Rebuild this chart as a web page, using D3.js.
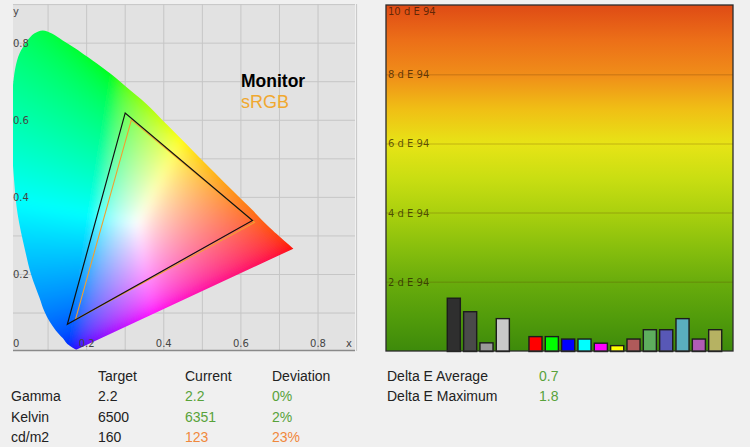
<!DOCTYPE html>
<html>
<head>
<meta charset="utf-8">
<script src="https://cdn.jsdelivr.net/npm/d3@7"></script>
<style>
  body { margin: 0; background: #f0f0f0; }
  svg { display: block; }
</style>
</head>
<body>
<svg id="chart" width="750" height="447"></svg>
<script>
// Spectral locus (CIE 1931 xy)
const locusX = [0.173, 0.150, 0.138, 0.120, 0.104, 0.090, 0.078, 0.056, 0.039, 0.021, 0.012, 0.006, 0.005, 0.010, 0.016, 0.026, 0.045, 0.064, 0.086, 0.110, 0.138, 0.170, 0.203, 0.268, 0.303, 0.355, 0.398, 0.459, 0.519, 0.571, 0.632, 0.675, 0.736];
const locusY = [0.005, 0.020, 0.035, 0.055, 0.078, 0.105, 0.139, 0.200, 0.269, 0.357, 0.443, 0.540, 0.630, 0.700, 0.740, 0.773, 0.805, 0.825, 0.833, 0.825, 0.807, 0.787, 0.764, 0.716, 0.686, 0.642, 0.599, 0.538, 0.477, 0.425, 0.365, 0.321, 0.267];

// Gamut triangles (red, green, blue primaries)
const monitorX = [0.630, 0.300, 0.150];
const monitorY = [0.340, 0.619, 0.071];
const srgbX = [0.635, 0.316, 0.171];
const srgbY = [0.335, 0.601, 0.083];

const gridTicks = [0.1, 0.2, 0.3, 0.4, 0.5, 0.6, 0.7, 0.8, 0.9];
const labelTicks = [0.2, 0.4, 0.6, 0.8];

// Delta E per patch (0 = empty slot)
const patchColors = [null, null, null, "#2f2f2f", "#4a4a4a", "#9a9a9a", "#c9c9c9", null,
  "#ff0000", "#00ff00", "#0000ff", "#00ffff", "#ff00ff", "#ffff00",
  "#b05a5a", "#5eae5e", "#5858b6", "#5aaebe", "#b05cb4", "#b6b262"];
const deltaE = [0, 0, 0, 1.54, 1.15, 0.25, 0.95, 0,
  0.43, 0.43, 0.36, 0.36, 0.24, 0.17,
  0.36, 0.63, 0.63, 0.95, 0.36, 0.63];
const deTicks = [2, 4, 6, 8, 10];
const deStops = [[10, "#df4b15"], [9, "#ec6f18"], [8, "#f08d19"], [7, "#f0bf15"], [6, "#e7e416"],
  [5, "#c9de12"], [4, "#aad00e"], [3, "#88bf0d"], [2, "#69ac0c"], [1, "#529c0b"], [0, "#3d8a0b"]];

// Summary table
const tableCols = ["Target", "Current", "Deviation"];
const tableRows = ["Gamma", "Kelvin", "cd/m2"];
const targetVals = ["2.2", "6500", "160"];
const currentVals = ["2.2", "6351", "123"];
const deviationVals = ["0%", "2%", "23%"];
const rowStatus = ["ok", "ok", "warn"];
const deLabels = ["Delta E Average", "Delta E Maximum"];
const deVals = ["0.7", "1.8"];

const green = "#58a23a", orange = "#f0883c";
const svg = d3.select("#chart");

// ---------- Left: chromaticity diagram ----------
const plot = {left: 13, right: 355, top: 4, bottom: 351};
const x = d3.scaleLinear().domain([0, 0.9]).range([9.5, 356.6]);
const y = d3.scaleLinear().domain([0, 0.9]).range([351.6, 4.6]);

const defs = svg.append("defs");
defs.append("clipPath").attr("id", "plotClip")
  .append("rect")
  .attr("x", plot.left).attr("y", plot.top)
  .attr("width", plot.right - plot.left).attr("height", plot.bottom - plot.top);

const locusPts = locusX.map((d, i) => [d, locusY[i]]);
const locusPath = d3.line()
  .x(d => x(d[0])).y(d => y(d[1]))
  .curve(d3.curveCatmullRom)(locusPts) + "Z";
defs.append("clipPath").attr("id", "locusClip")
  .append("path").attr("d", locusPath);

// soften the colour wedges a bit
defs.append("filter").attr("id", "soft")
  .attr("x", "-5%").attr("y", "-5%").attr("width", "110%").attr("height", "110%")
  .append("feGaussianBlur").attr("stdDeviation", 5);

svg.append("rect")
  .attr("x", plot.left).attr("y", plot.top)
  .attr("width", plot.right - plot.left).attr("height", plot.bottom - plot.top)
  .attr("fill", "#e2e2e2");

// grid
const grid = svg.append("g").attr("stroke", "#c6c6c6").attr("stroke-width", 1);
grid.selectAll(".vx").data(gridTicks).join("line")
  .attr("x1", d => x(d)).attr("x2", d => x(d))
  .attr("y1", plot.top).attr("y2", plot.bottom);
grid.selectAll(".hy").data(gridTicks).join("line")
  .attr("x1", plot.left).attr("x2", plot.right)
  .attr("y1", d => y(d)).attr("y2", d => y(d));

// colour fill of the horseshoe, computed per pixel (CIE RGB primaries)
function xyToRgb(cx, cy) {
  const X = cx / cy, Z = (1 - cx - cy) / cy;
  let r = 2.3655 * X - 0.8971 - 0.4683 * Z;
  let g = -0.5151 * X + 1.4264 + 0.0887 * Z;
  let b = 0.0052 * X - 0.0144 + 1.0089 * Z;
  r = Math.max(r, 0); g = Math.max(g, 0); b = Math.max(b, 0);
  const m = Math.max(r, g, b) || 1;
  return [r / m, g / m, b / m].map(c =>
    255 * (c <= 0.0031308 ? 12.92 * c : 1.055 * Math.pow(c, 1 / 2.4) - 0.055));
}
const pad = 24;
const cw = plot.right - plot.left + 2 * pad, ch = plot.bottom - plot.top + 2 * pad;
const canvas = document.createElement("canvas");
canvas.width = cw; canvas.height = ch;
const ctx = canvas.getContext("2d");
const img = ctx.createImageData(cw, ch);
for (let j = 0; j < ch; j++) {
  const cy = Math.max(y.invert(plot.top - pad + j + 0.5), 0.004);
  for (let i = 0; i < cw; i++) {
    const cx = Math.max(x.invert(plot.left - pad + i + 0.5), 0.001);
    const [r, g, b] = xyToRgb(cx, cy);
    const k = (j * cw + i) * 4;
    img.data[k] = r; img.data[k + 1] = g; img.data[k + 2] = b; img.data[k + 3] = 255;
  }
}
ctx.putImageData(img, 0, 0);

svg.append("g").attr("clip-path", "url(#plotClip)")
  .append("g").attr("clip-path", "url(#locusClip)")
  .append("image")
  .attr("href", canvas.toDataURL())
  .attr("x", plot.left - pad).attr("y", plot.top - pad)
  .attr("width", cw).attr("height", ch)
  .attr("filter", "url(#soft)");

// bottom axis line
svg.append("line")
  .attr("x1", plot.left).attr("x2", plot.right)
  .attr("y1", 350.5).attr("y2", 350.5)
  .attr("stroke", "#8a8a8a").attr("stroke-width", 1.5);

// tick labels
const tickFont = {family: "DejaVu Sans", size: "10px", fill: "#454545"};
svg.selectAll(".ylab").data(labelTicks).join("text")
  .attr("x", 13).attr("y", d => y(d)).attr("dy", "0.35em")
  .style("font-family", tickFont.family).style("font-size", tickFont.size)
  .attr("fill", tickFont.fill).text(d => d);
svg.selectAll(".xlab").data(labelTicks).join("text")
  .attr("x", d => x(d)).attr("y", 347).attr("text-anchor", "middle")
  .style("font-family", tickFont.family).style("font-size", tickFont.size)
  .attr("fill", tickFont.fill).text(d => d);
svg.append("text").attr("x", 13).attr("y", 347)
  .style("font-family", tickFont.family).style("font-size", tickFont.size)
  .attr("fill", tickFont.fill).text("0");
svg.append("text").attr("x", 346).attr("y", 347)
  .style("font-family", tickFont.family).style("font-size", tickFont.size)
  .attr("fill", tickFont.fill).text("x");
svg.append("text").attr("x", 13).attr("y", 15)
  .style("font-family", tickFont.family).style("font-size", tickFont.size)
  .attr("fill", tickFont.fill).text("y");

// gamut triangles
const tri = (xs, ys) => xs.map((d, i) => [x(d), y(ys[i])].join(",")).join(" ");
svg.append("polygon").attr("points", tri(srgbX, srgbY))
  .attr("fill", "none").attr("stroke", "#f0a030").attr("stroke-width", 1.1);
svg.append("polygon").attr("points", tri(monitorX, monitorY))
  .attr("fill", "none").attr("stroke", "#111").attr("stroke-width", 1.2);

// legend
svg.append("text").attr("x", 241).attr("y", 87)
  .style("font-family", "Liberation Sans").style("font-size", "17.5px").style("font-weight", "bold")
  .attr("fill", "#000").text("Monitor");
svg.append("text").attr("x", 241).attr("y", 108)
  .style("font-family", "Liberation Sans").style("font-size", "18px")
  .attr("fill", "#f0a830").text("sRGB");

// ---------- Right: Delta E bars ----------
const de = {left: 386, right: 733, top: 5, bottom: 351};
const yDE = d3.scaleLinear().domain([0, 10]).range([351.5, 5.5]);
const xDE = d3.scaleBand().domain(d3.range(deltaE.length))
  .range([395, 725]).paddingInner(0.2).paddingOuter(0.2);

const grad = defs.append("linearGradient").attr("id", "deGrad")
  .attr("gradientUnits", "userSpaceOnUse")
  .attr("x1", 0).attr("x2", 0).attr("y1", yDE(10)).attr("y2", yDE(0));
grad.selectAll("stop").data(deStops).join("stop")
  .attr("offset", d => (yDE(d[0]) - yDE(10)) / (yDE(0) - yDE(10)))
  .attr("stop-color", d => d[1]);

svg.append("rect")
  .attr("x", de.left).attr("y", de.top)
  .attr("width", de.right - de.left).attr("height", de.bottom - de.top)
  .attr("fill", "url(#deGrad)");

svg.selectAll(".degrid").data(deTicks.slice(0, -1)).join("line")
  .attr("x1", de.left).attr("x2", de.right)
  .attr("y1", d => yDE(d)).attr("y2", d => yDE(d))
  .attr("stroke", "rgba(90,50,0,0.18)").attr("stroke-width", 1.5);

svg.selectAll(".delab").data(deTicks).join("text")
  .attr("x", 388).attr("y", d => Math.max(yDE(d), 11)).attr("dy", "0.35em")
  .style("font-family", "DejaVu Sans").style("font-size", "10px")
  .attr("fill", "rgba(40,20,0,0.7)")
  .text(d => d + " d E 94");

svg.selectAll(".bar").data(deltaE.map((v, i) => ({i, v, c: patchColors[i]})).filter(d => d.v > 0))
  .join("rect")
  .attr("x", d => xDE(d.i)).attr("width", xDE.bandwidth())
  .attr("y", d => yDE(d.v)).attr("height", d => yDE(0) - yDE(d.v))
  .attr("fill", d => d.c).attr("stroke", "#1c1c1c").attr("stroke-width", 1.4);

svg.append("rect")
  .attr("x", de.left).attr("y", de.top)
  .attr("width", de.right - de.left).attr("height", de.bottom - de.top)
  .attr("fill", "none").attr("stroke", "#2c2c2c").attr("stroke-width", 1.3);

// ---------- Bottom: summary table ----------
const table = svg.append("g")
  .style("font-family", "Liberation Sans").style("font-size", "14px");
const colX = [98, 185, 272];
const rowY = [401, 422, 442];
const statusColor = s => s === "ok" ? green : orange;

table.selectAll(".th").data(tableCols).join("text")
  .attr("x", (d, i) => colX[i]).attr("y", 381).attr("fill", "#222").text(d => d);
table.selectAll(".rl").data(tableRows).join("text")
  .attr("x", 11).attr("y", (d, i) => rowY[i]).attr("fill", "#222").text(d => d);
table.selectAll(".tv").data(targetVals).join("text")
  .attr("x", colX[0]).attr("y", (d, i) => rowY[i]).attr("fill", "#222").text(d => d);
table.selectAll(".cv").data(currentVals).join("text")
  .attr("x", colX[1]).attr("y", (d, i) => rowY[i]).attr("fill", (d, i) => statusColor(rowStatus[i])).text(d => d);
table.selectAll(".dv").data(deviationVals).join("text")
  .attr("x", colX[2]).attr("y", (d, i) => rowY[i]).attr("fill", (d, i) => statusColor(rowStatus[i])).text(d => d);

table.selectAll(".dl").data(deLabels).join("text")
  .attr("x", 387).attr("y", (d, i) => [381, 401][i]).attr("fill", "#222").text(d => d);
table.selectAll(".dvv").data(deVals).join("text")
  .attr("x", 539).attr("y", (d, i) => [381, 401][i]).attr("fill", green).text(d => d);
</script>
</body>
</html>
